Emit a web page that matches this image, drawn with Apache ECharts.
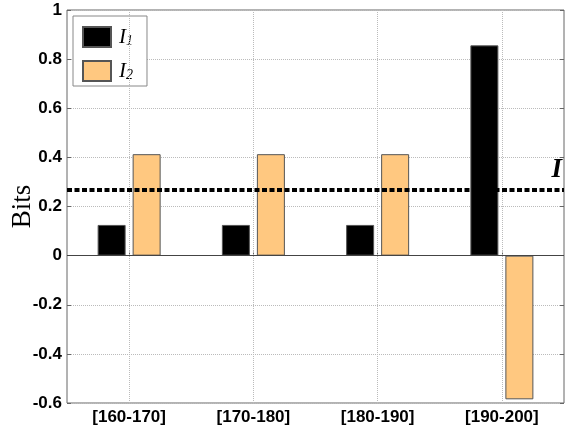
<!DOCTYPE html>
<html>
<head>
<meta charset="utf-8">
<script src="https://cdn.jsdelivr.net/npm/echarts@6/dist/echarts.min.js"></script>
<style>
  html, body { margin: 0; padding: 0; background: #fff; }
  #chart { width: 571px; height: 429px; }
</style>
</head>
<body>
<div id="chart"></div>
<script>
const categories = ["[160-170]", "[170-180]", "[180-190]", "[190-200]"];
const i1Values = [0.125, 0.125, 0.125, 0.856];
const i2Values = [0.413, 0.413, 0.413, -0.585];
const overallI = 0.27;
const yTicks = { min: -0.6, max: 1, step: 0.2 };

const tickFont = { color: "#000", fontFamily: "Arial", fontWeight: "bold", fontSize: 17 };
const edge = "#555";

const chart = echarts.init(document.getElementById("chart"));

chart.setOption({
  animation: false,
  backgroundColor: "#fff",
  grid: {
    left: 67, right: 7, top: 10, bottom: 26,
    outerBoundsMode: "none",
    containLabel: false,
    show: true, borderColor: "#666", borderWidth: 1
  },
  legend: {
    data: ["I1", "I2"],
    orient: "vertical",
    left: 73, top: 16,
    padding: [4, 14, 4, 9],
    itemWidth: 28, itemHeight: 20, itemGap: 6,
    icon: "rect",
    borderColor: "#888", borderWidth: 1,
    backgroundColor: "#fff",
    formatter: (name) => "{a|I}{b|" + name.slice(1) + "}",
    textStyle: {
      rich: {
        a: { fontFamily: "Liberation Serif", fontStyle: "italic", fontSize: 21, color: "#000", lineHeight: 22, padding: [0, 0, 0, 3] },
        b: { fontFamily: "Liberation Serif", fontStyle: "italic", fontSize: 14, color: "#000", verticalAlign: "bottom", padding: [14, 0, 0, 0], lineHeight: 22 }
      }
    }
  },
  xAxis: {
    type: "category",
    data: categories,
    axisLine: { show: false },
    axisTick: { show: true, alignWithLabel: true, inside: true, length: 4, lineStyle: { color: "#666" } },
    axisLabel: { ...tickFont, margin: 6 },
    splitLine: { show: false }
  },
  yAxis: [
    {
      type: "value",
      min: yTicks.min, max: yTicks.max, interval: yTicks.step,
      name: "Bits",
      nameLocation: "middle",
      nameGap: 31,
      nameMoveOverlap: false,
      nameTextStyle: { fontFamily: "Liberation Serif", fontSize: 27, color: "#000" },
      axisLine: { show: false },
      axisTick: { show: true, inside: true, length: 4, lineStyle: { color: "#666" } },
      axisLabel: { ...tickFont, margin: 5, formatter: (v) => String(Math.round(v * 10) / 10) },
      splitLine: { show: true, lineStyle: { color: "#bbb", type: "dotted", width: 1 } }
    },
    {
      type: "value",
      min: yTicks.min, max: yTicks.max, interval: yTicks.step,
      position: "right",
      axisLine: { show: false },
      axisTick: { show: true, inside: true, length: 4, lineStyle: { color: "#666" } },
      axisLabel: { show: false },
      splitLine: { show: false }
    }
  ],
  series: [
    {
      name: "grid",
      type: "line",
      data: [],
      z: 1,
      silent: true,
      markLine: {
        symbol: "none",
        silent: true,
        label: { show: false },
        data: [
          ...categories.map((c) => ({ xAxis: c, lineStyle: { color: "#bbb", type: "dotted", width: 1 } })),
          { yAxis: 0, lineStyle: { color: "#444", type: "solid", width: 1 } }
        ]
      }
    },
    {
      name: "I1",
      type: "bar",
      data: i1Values,
      barWidth: 28,
      barGap: "25%",
      z: 3,
      itemStyle: { color: "#000", borderColor: edge, borderWidth: 1 }
    },
    {
      name: "I2",
      type: "bar",
      data: i2Values,
      barWidth: 28,
      z: 3,
      itemStyle: { color: "#FFC880", borderColor: edge, borderWidth: 1 },
      markLine: {
        symbol: "none",
        silent: true,
        z: 5,
        data: [{ yAxis: overallI }],
        lineStyle: { color: "#000", type: [5, 2.5], width: 4 },
        label: {
          show: true,
          position: "insideEndTop",
          formatter: "I",
          fontFamily: "Liberation Serif",
          fontStyle: "italic",
          fontWeight: "bold",
          fontSize: 27,
          color: "#000",
          distance: [2, 6]
        }
      }
    }
  ]
});
</script>
</body>
</html>
